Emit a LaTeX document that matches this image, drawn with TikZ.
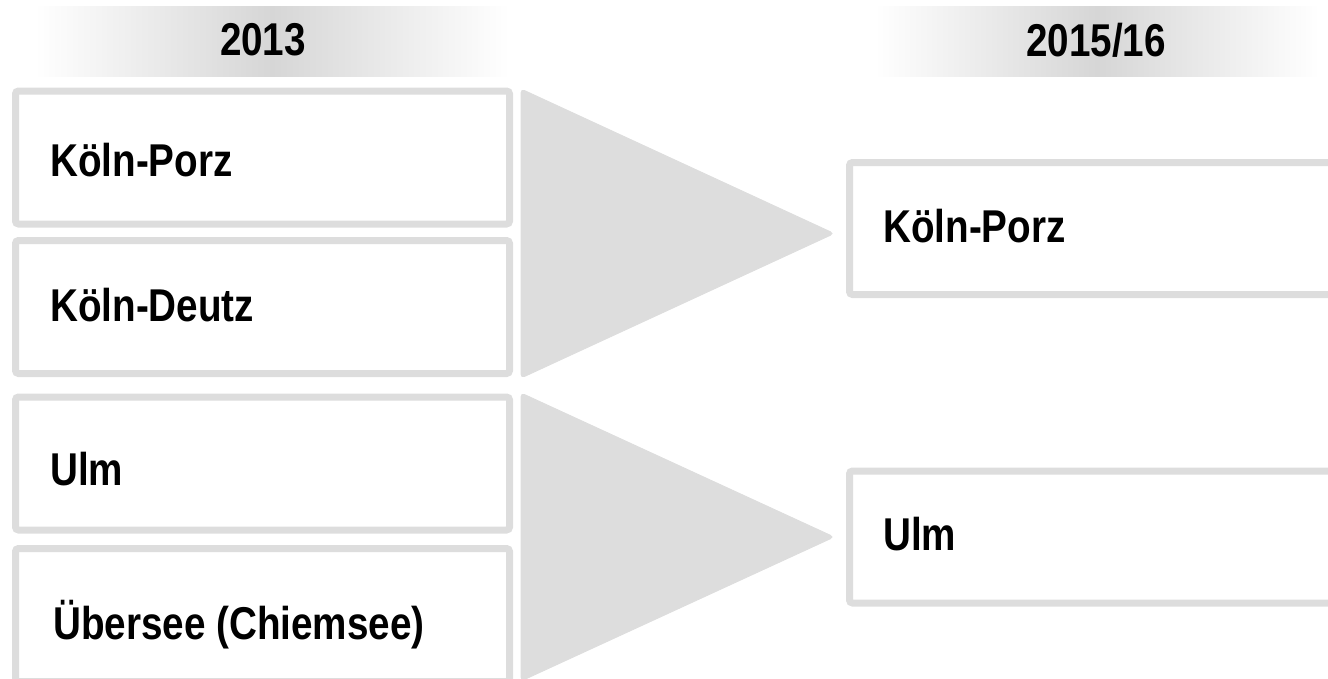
\documentclass[tikz,border=0pt]{standalone}
\usepackage{fontspec}
\setmainfont{Liberation Sans}[FakeStretch=0.84]
\begin{document}
\begin{tikzpicture}[x=1pt,y=-1pt,
  boxframe/.style={draw=boxgray, line width=7pt, rounded corners=3pt, minimum width=494pt, minimum height=133pt, inner sep=0pt, fill=white},
  rboxframe/.style={draw=boxgray, line width=7pt, rounded corners=3pt, minimum width=495pt, minimum height=132pt, inner sep=0pt, fill=white},
  lbl/.style={anchor=base west, inner sep=0pt, font=\fontsize{46}{50}\selectfont\bfseries},
  hdrbar/.style={minimum width=475pt, minimum height=70pt, inner sep=0pt, left color=white, right color=white, middle color=hdrgray},
  hdrtxt/.style={inner sep=0pt, font=\fontsize{46}{50}\selectfont\bfseries},
  tri/.style={fill=boxgray, draw=boxgray, line width=1pt, rounded corners=4pt}]
\definecolor{boxgray}{HTML}{DDDDDD}
\definecolor{hdrgray}{HTML}{D6D6D6}
\useasboundingbox (0,0) rectangle (1328,678);
% headers
\node[hdrbar] (h1) at (272,41) {};
\node[hdrbar, minimum width=445pt] (h2) at (1097,41) {};
\node[hdrtxt] (t1) at (263,40) {2013};
\node[hdrtxt] (t2) at (1096,40) {2015/16};
% left boxes
\node[boxframe] (b1) at (262.5,157.5) {};
\node[boxframe] (b2) at (262.5,307) {};
\node[boxframe] (b3) at (262.5,463.5) {};
\node[boxframe] (b4) at (262.5,615) {};
\node[lbl] (l1) at (50,176) {Köln-Porz};
\node[lbl] (l2) at (50,321) {Köln-Deutz};
\node[lbl] (l3) at (50,485) {Ulm};
\node[lbl] (l4) at (53,639) {Übersee (Chiemsee)};
% triangles
\draw[tri] (521,89) -- (834,233.5) -- (521,378) -- cycle;
\draw[tri] (521,393) -- (834,537) -- (521,681) -- cycle;
% right boxes
\node[rboxframe] (r1) at (1097,228.5) {};
\node[rboxframe] (r2) at (1097,537) {};
\node[lbl] (rl1) at (883,242) {Köln-Porz};
\node[lbl] (rl2) at (883,550) {Ulm};
\end{tikzpicture}
\end{document}
